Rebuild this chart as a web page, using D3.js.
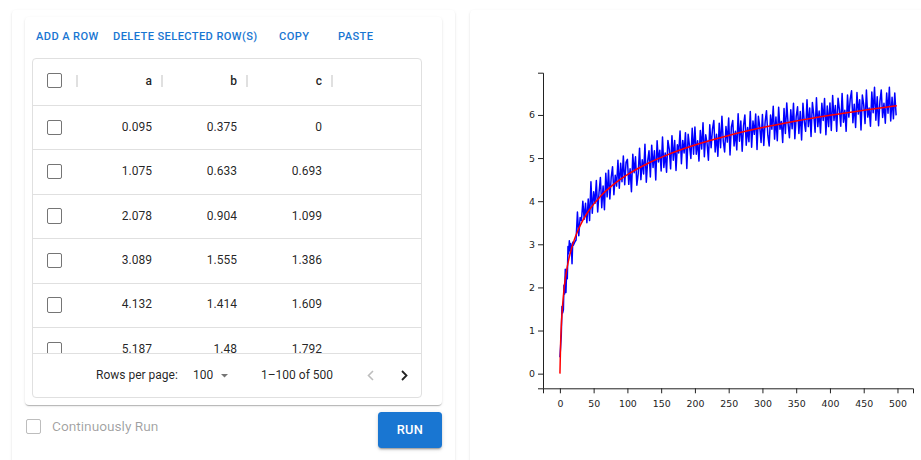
<!DOCTYPE html>
<html>
<head>
<meta charset="utf-8">
<script src="https://cdn.jsdelivr.net/npm/d3@7"></script>
<style>
  body { margin: 0; width: 921px; height: 460px; overflow: hidden; background: #fff; position: relative; font-family: Roboto, sans-serif; }
  .paper { position: absolute; background: #fff; border-radius: 4px;
    box-shadow: 0 2px 1px -1px rgba(0,0,0,0.16), 0 1px 1px 0 rgba(0,0,0,0.10), 0 1px 3px 0 rgba(0,0,0,0.10); }
  .abs { position: absolute; white-space: nowrap; }
  .btn { font-size: 11.1px; font-weight: 500; letter-spacing: 0.4px; color: #1976d2; line-height: 14px; }
  .grid { border: 1px solid #e0e0e0; border-radius: 4px; box-sizing: border-box; overflow: hidden; }
  .cb { position: absolute; width: 15.4px; height: 15.4px; box-sizing: border-box; border: 1.7px solid rgba(0,0,0,0.54); border-radius: 2px; }
  .cell { font-size: 12px; color: rgba(0,0,0,0.87); text-align: right; line-height: 14px; }
  .head { font-size: 12px; font-weight: 500; color: rgba(0,0,0,0.87); text-align: right; line-height: 14px; }
  .sep { position: absolute; width: 1.5px; height: 12px; background: #e0e0e0; }
  .hline { position: absolute; height: 1px; background: #e0e0e0; }
  .foot { font-size: 12px; color: rgba(0,0,0,0.87); line-height: 14px; }
  #chart { position: absolute; left: 0; top: 0; }
  .axis text { font-family: "DejaVu Sans", sans-serif; font-size: 9.4px; fill: #222; }
  .axis path, .axis line { stroke: #222; }
</style>
</head>
<body>
<script>
// table contents (first rows of the data grid)
const columns = ['a', 'b', 'c']
const colA = [0.095, 1.075, 2.078, 3.089, 4.132, 5.187]
const colB = ['0.375', '0.633', '0.904', '1.555', '1.414', '1.48']
const colC = ['0', '0.693', '1.099', '1.386', '1.609', '1.792']
const buttons = ['ADD A ROW', 'DELETE SELECTED ROW(S)', 'COPY', 'PASTE']

// blue series [a, b]
const bSeries = [
  [0.1, 0.38], [1.08, 0.63], [2.08, 0.9], [3.09, 1.56], [4.13, 1.41], [5.19, 1.48],
  [6, 2.05], [7, 1.85], [8, 2.42], [9, 1.88], [10, 2.38], [11, 2.2], [12, 2.95],
  [13, 2.78], [14, 3.08], [15, 2.85], [16, 3.02], [17, 2.95], [18, 2.55], [19, 3.05],
  [20, 2.98], [22, 3.05], [24, 3.1], [26, 3.75], [28, 3.2], [30, 3.62], [32, 3.55],
  [34, 4.0], [36, 3.58], [38, 3.95], [40, 3.5], [42, 4.05], [44, 3.55], [46, 4.45],
  [48, 3.72], [50, 4.22], [52, 3.95], [54, 4.48], [56, 3.75], [58, 4.2], [60, 4.55],
  [62, 3.85], [64, 4.35], [66, 3.8], [68, 4.65], [70, 4.1], [72, 4.72], [74, 4.05],
  [76, 4.55], [78, 4.8], [80, 4.15], [82, 4.6], [84, 4.35], [86, 4.95], [88, 4.3],
  [90, 4.88], [92, 4.45], [94, 5.05], [96, 4.38], [98, 4.9],
  [100, 4.97], [102, 4.39], [104, 4.75], [106, 4.22], [108, 5.09], [110, 4.66], [112, 5.03],
  [114, 4.37], [116, 4.64], [118, 5.23], [120, 4.5], [122, 4.96], [124, 4.63], [126, 5.32],
  [128, 4.44], [130, 4.93], [132, 5.17], [134, 4.56], [136, 5.3], [138, 4.78], [140, 5.17],
  [142, 4.49], [144, 5.4], [146, 4.91], [148, 5.18], [150, 4.7], [152, 5.49], [154, 4.78],
  [156, 5.12], [158, 4.67], [160, 5.41], [162, 5.21], [164, 4.75], [166, 5.52], [168, 4.95],
  [170, 5.41], [172, 4.71], [174, 5.31], [176, 5.12], [178, 5.63], [180, 4.87], [182, 5.41],
  [184, 5.12], [186, 5.59], [188, 4.76], [190, 5.55], [192, 5.28], [194, 4.99], [196, 5.69],
  [198, 5.09],
  [200, 5.72], [202, 5.09], [204, 5.4], [206, 4.93], [208, 5.64], [210, 5.21], [212, 5.82],
  [214, 5.03], [216, 5.54], [218, 5.34], [220, 4.95], [222, 5.77], [224, 5.24], [226, 5.67],
  [228, 5.87], [230, 5.14], [232, 5.55], [234, 5.04], [236, 5.81], [238, 5.24], [240, 5.97],
  [242, 5.39], [244, 5.14], [246, 5.73], [248, 5.37], [250, 5.93], [252, 5.07], [254, 5.72],
  [256, 5.87], [258, 5.28], [260, 5.62], [262, 5.19], [264, 6.03], [266, 5.39], [268, 5.86],
  [270, 5.16], [272, 5.75], [274, 6.0], [276, 5.3], [278, 5.71], [280, 5.38], [282, 6.08],
  [284, 5.25], [286, 5.86], [288, 5.55], [290, 6.02], [292, 5.2], [294, 5.97], [296, 5.73],
  [298, 5.36],
  [300, 6.01], [302, 5.29], [304, 5.84], [306, 6.1], [308, 5.53], [310, 5.28], [312, 6.0],
  [314, 5.67], [316, 6.2], [318, 5.44], [320, 5.95], [322, 5.4], [324, 6.18], [326, 5.67],
  [328, 5.85], [330, 5.36], [332, 6.15], [334, 5.57], [336, 6.28], [338, 5.8], [340, 5.47],
  [342, 6.12], [344, 5.68], [346, 6.27], [348, 5.45], [350, 5.96], [352, 6.19], [354, 5.57],
  [356, 6.08], [358, 5.42], [360, 6.27], [362, 5.84], [364, 5.62], [366, 6.35], [368, 5.73],
  [370, 6.16], [372, 5.5], [374, 6.29], [376, 6.01], [378, 5.6], [380, 6.4], [382, 5.73],
  [384, 6.09], [386, 5.58], [388, 6.27], [390, 5.87], [392, 6.38], [394, 5.54], [396, 6.21],
  [398, 5.73],
  [400, 6.28], [402, 5.64], [404, 6.45], [406, 5.87], [408, 6.22], [410, 5.62], [412, 6.39],
  [414, 6.13], [416, 5.74], [418, 6.5], [420, 5.83], [422, 6.11], [424, 5.62], [426, 6.46],
  [428, 5.95], [430, 6.37], [432, 6.56], [434, 5.82], [436, 6.25], [438, 5.71], [440, 6.52],
  [442, 6.02], [444, 6.35], [446, 5.65], [448, 6.46], [450, 6.24], [452, 5.8], [454, 6.58],
  [456, 5.95], [458, 6.16], [460, 5.74], [462, 6.53], [464, 6.05], [466, 6.64], [468, 5.88],
  [470, 6.42], [472, 5.75], [474, 6.31], [476, 6.58], [478, 5.94], [480, 6.27], [482, 5.81],
  [484, 6.51], [486, 6.04], [488, 6.64], [490, 5.86], [492, 6.41], [494, 5.91], [496, 6.51],
  [498, 5.99]
]

// red series [a, c]
const cSeries = [
  [0.1, 0], [1.08, 0.693], [2.08, 1.099], [3.09, 1.386], [4.13, 1.609], [5.19, 1.792],
  [6, 1.946], [8, 2.197], [10, 2.398], [12, 2.565], [15, 2.773], [20, 3.045], [25, 3.258],
  [30, 3.434], [40, 3.714], [50, 3.932], [60, 4.111], [80, 4.394], [100, 4.615],
  [130, 4.875], [160, 5.081], [200, 5.303], [250, 5.525], [300, 5.707], [350, 5.861],
  [400, 5.994], [450, 6.111], [499, 6.215]
]

const xTicks = [0, 50, 100, 150, 200, 250, 300, 350, 400, 450, 500]
const yTicks = [0, 1, 2, 3, 4, 5, 6]

const body = d3.select('body')

// papers
body.append('div').attr('class', 'paper').style('left', '12px').style('top', '10px').style('width', '443px').style('height', '470px')
body.append('div').attr('class', 'paper').style('left', '470px').style('top', '10px').style('width', '470px').style('height', '470px')
body.append('div').attr('class', 'paper').style('left', '25px').style('top', '17px').style('width', '417px').style('height', '388px')

// toolbar buttons
const btnX = [36, 113, 279, 338]
buttons.forEach((b, i) => {
  body.append('div').attr('class', 'abs btn').style('left', btnX[i] + 'px').style('top', '30px').text(b)
})

// grid
const grid = body.append('div').attr('class', 'abs grid')
  .style('left', '32px').style('top', '58px').style('width', '390px').style('height', '340px')

const colRight = [152, 237, 322]
const sepX = [76, 161, 246, 331]
const rowTop = 105
const rowH = 44.4
const gx = 32, gy = 58

// header
grid.append('div').attr('class', 'cb').style('left', (47 - gx - 1) + 'px').style('top', (73 - gy - 1) + 'px')
sepX.forEach((x) => {
  grid.append('div').attr('class', 'sep').style('left', (x - gx - 1) + 'px').style('top', (75 - gy - 1) + 'px')
})
columns.forEach((c, i) => {
  grid.append('div').attr('class', 'abs head').style('left', (colRight[i] - 60 - gx - 1) + 'px')
    .style('width', '60px').style('top', (74 - gy - 1) + 'px').text(c)
})

// body rows (clipped above the footer)
const rowsBox = grid.append('div').style('position', 'absolute').style('left', '0px')
  .style('top', (rowTop - gy - 1) + 'px').style('width', '390px').style('height', (353 - rowTop) + 'px').style('overflow', 'hidden')

colA.forEach((a, r) => {
  const top = r * rowH
  rowsBox.append('div').attr('class', 'hline').style('left', '0px').style('width', '390px').style('top', top + 'px')
  rowsBox.append('div').attr('class', 'cb').style('left', (47 - gx - 1) + 'px').style('top', (top + 14.6) + 'px')
  const vals = [a.toFixed(3), colB[r], colC[r]]
  vals.forEach((v, i) => {
    rowsBox.append('div').attr('class', 'abs cell').style('left', (colRight[i] - 60 - gx - 1) + 'px')
      .style('width', '60px').style('top', (top + 14.7) + 'px').text(v)
  })
})

// footer
grid.append('div').attr('class', 'hline').style('left', '0px').style('width', '390px').style('top', (353 - gy - 1) + 'px')
grid.append('div').attr('class', 'abs foot').style('left', (96 - gx - 1) + 'px').style('top', (368 - gy - 1) + 'px').text('Rows per page:')
grid.append('div').attr('class', 'abs foot').style('left', (193 - gx - 1) + 'px').style('top', (368 - gy - 1) + 'px').text('100')
grid.append('div').attr('class', 'abs foot').style('left', (261 - gx - 1) + 'px').style('top', (368 - gy - 1) + 'px').text('1–100 of 500')

const icons = grid.append('svg').attr('width', 390).attr('height', 340).style('position', 'absolute')
  .style('left', '0px').style('top', '0px')
icons.append('path').attr('d', `M${220 - gx} ${373 - gy} l7 0 l-3.5 3.5 z`).attr('fill', 'rgba(0,0,0,0.54)')
icons.append('path').attr('d', `M${372 - gx} ${370 - gy} l-4.5 4.5 l4.5 4.5`).attr('fill', 'none')
  .attr('stroke', 'rgba(0,0,0,0.26)').attr('stroke-width', 1.6)
icons.append('path').attr('d', `M${401 - gx} ${370 - gy} l4.5 4.5 l-4.5 4.5`).attr('fill', 'none')
  .attr('stroke', 'rgba(0,0,0,0.87)').attr('stroke-width', 1.8)

// continuously run + run button
body.append('div').attr('class', 'cb').style('left', '26px').style('top', '419px').style('border-color', 'rgba(0,0,0,0.26)')
body.append('div').attr('class', 'abs').style('left', '52px').style('top', '418px')
  .style('font-size', '13.7px').style('color', 'rgba(0,0,0,0.38)').style('line-height', '17px').text('Continuously Run')
body.append('div').attr('class', 'abs').style('left', '378px').style('top', '412px').style('width', '64px').style('height', '36px')
  .style('background', '#1976d2').style('border-radius', '3.5px').style('color', '#fff').style('font-size', '12.8px')
  .style('font-weight', '500').style('letter-spacing', '0.4px').style('line-height', '36px').style('text-align', 'center')
  .style('box-shadow', '0 3px 1px -2px rgba(0,0,0,0.2), 0 2px 2px 0 rgba(0,0,0,0.14), 0 1px 5px 0 rgba(0,0,0,0.12)')
  .text('RUN')

// chart
const svg = body.append('svg').attr('id', 'chart').attr('width', 921).attr('height', 460)

const x = d3.scaleLinear().domain([-25, 523]).range([543, 913])
const y = d3.scaleLinear().domain([-0.34, 6.98]).range([388.3, 72.7])

svg.append('g').attr('class', 'axis').attr('transform', 'translate(0,388.3)')
  .call(d3.axisBottom(x).tickValues(xTicks).tickSize(5).tickPadding(7))

svg.append('g').attr('class', 'axis').attr('transform', 'translate(543,0)')
  .call(d3.axisLeft(y).tickValues(yTicks).tickSize(5).tickPadding(3))

const line = d3.line().x((d) => x(d[0])).y((d) => y(d[1]))

svg.append('path').datum(bSeries).attr('d', line).attr('fill', 'none')
  .attr('stroke', '#0000ff').attr('stroke-width', 1.5).attr('stroke-linejoin', 'round')

svg.append('path').datum(cSeries).attr('d', line.curve(d3.curveMonotoneX)).attr('fill', 'none')
  .attr('stroke', '#ff0000').attr('stroke-width', 1.5)
</script>
</body>
</html>
